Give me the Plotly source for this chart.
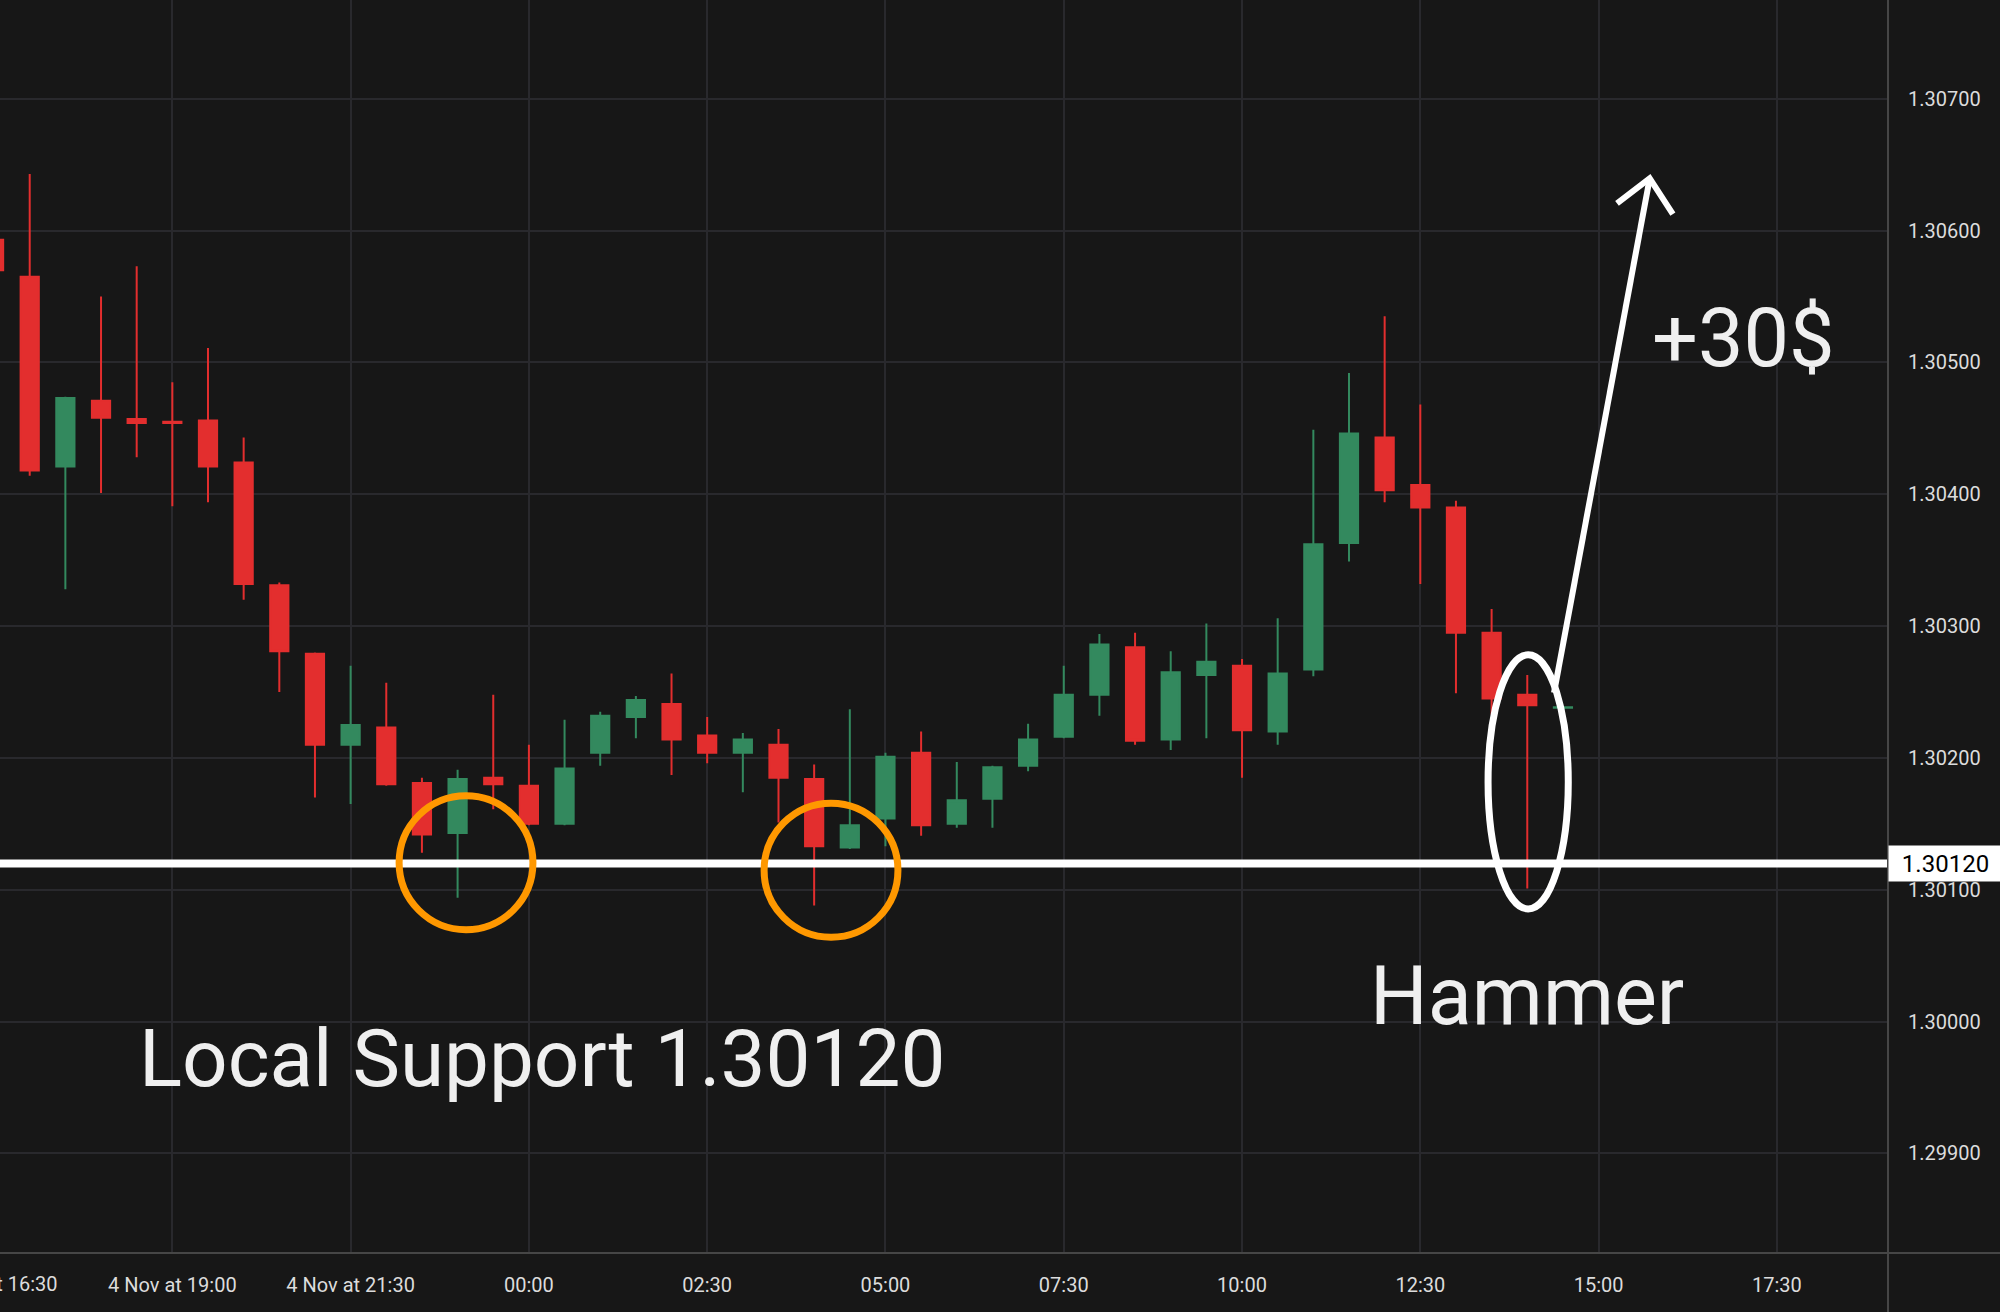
import pandas as pd
import plotly.graph_objects as go

# GBP/USD style 30 min candles, 4 Nov 16:30 -> 5 Nov 14:30
times = pd.date_range("2024-11-04 16:30", periods=45, freq="30min")

opens = [1.30593, 1.30565, 1.30421, 1.30471, 1.30457, 1.30455, 1.30456, 1.30424, 1.30331,
         1.30279, 1.30210, 1.30223, 1.30181, 1.30143, 1.30185, 1.30179, 1.30150, 1.30204,
         1.30231, 1.30241, 1.30217, 1.30204, 1.30210, 1.30184, 1.30132, 1.30154, 1.30204,
         1.30150, 1.30169, 1.30194, 1.30216, 1.30248, 1.30284, 1.30214, 1.30263, 1.30270,
         1.30220, 1.30267, 1.30363, 1.30443, 1.30407, 1.30390, 1.30295, 1.30248, 1.30238]
highs = [1.30610, 1.30643, 1.30474, 1.30550, 1.30573, 1.30485, 1.30511, 1.30443, 1.30333,
         1.30280, 1.30270, 1.30257, 1.30185, 1.30191, 1.30248, 1.30210, 1.30229, 1.30235,
         1.30247, 1.30264, 1.30231, 1.30219, 1.30222, 1.30195, 1.30237, 1.30204, 1.30220,
         1.30197, 1.30194, 1.30226, 1.30270, 1.30294, 1.30295, 1.30281, 1.30302, 1.30275,
         1.30306, 1.30449, 1.30492, 1.30535, 1.30468, 1.30395, 1.30313, 1.30263, 1.302385]
lows = [1.30560, 1.30414, 1.30328, 1.30401, 1.30428, 1.30391, 1.30394, 1.30320, 1.30250,
        1.30170, 1.30165, 1.30179, 1.30128, 1.30094, 1.30161, 1.30149, 1.30149, 1.30194,
        1.30215, 1.30187, 1.30196, 1.30174, 1.30151, 1.30088, 1.30131, 1.30133, 1.30141,
        1.30147, 1.30147, 1.30190, 1.30215, 1.30232, 1.30210, 1.30206, 1.30215, 1.30185,
        1.30210, 1.30262, 1.30349, 1.30394, 1.30332, 1.30249, 1.30233, 1.30101, 1.30238]
closes = [1.30570, 1.30418, 1.30473, 1.30458, 1.30454, 1.30454, 1.30421, 1.30332, 1.30281,
          1.30210, 1.30225, 1.30180, 1.30142, 1.30184, 1.30180, 1.30150, 1.30192, 1.30232,
          1.30244, 1.30214, 1.30204, 1.30214, 1.30185, 1.30133, 1.30149, 1.30201, 1.30149,
          1.30168, 1.30193, 1.30214, 1.30248, 1.30286, 1.30213, 1.30265, 1.30273, 1.30221,
          1.30264, 1.30362, 1.30446, 1.30403, 1.30390, 1.30295, 1.30245, 1.30240, 1.302385]

y_ticks = [1.299, 1.300, 1.301, 1.302, 1.303, 1.304, 1.305, 1.306, 1.307]
x_tick_times = ["2024-11-04 19:00", "2024-11-04 21:30", "2024-11-05 00:00", "2024-11-05 02:30",
                "2024-11-05 05:00", "2024-11-05 07:30", "2024-11-05 10:00", "2024-11-05 12:30",
                "2024-11-05 15:00", "2024-11-05 17:30"]
x_tick_labels = ["4 Nov at 19:00", "4 Nov at 21:30", "00:00", "02:30", "05:00", "07:30",
                 "10:00", "12:30", "15:00", "17:30"]
first_label = "4 Nov at 16:30"

support_level = 1.30120
support_label = "1.30120"

BG = "#171717"
GRID = "#29292d"
AXIS = "#464646"
UP = "#33895e"
DOWN = "#e32e2e"
TXT = "#efefef"
TICK = "#dcdcdc"
ORANGE = "#ff9800"

fig = go.Figure()

fig.add_trace(
    go.Candlestick(
        x=times, open=opens, high=highs, low=lows, close=closes,
        increasing=dict(line=dict(color=UP, width=2), fillcolor=UP),
        decreasing=dict(line=dict(color=DOWN, width=2), fillcolor=DOWN),
        hoverinfo="skip", showlegend=False,
    )
)

# arrow (shaft + open chevron head)
arrow_x = ["2024-11-05 14:22:30", "2024-11-05 15:43", None,
           "2024-11-05 15:15:30", "2024-11-05 15:43", "2024-11-05 16:02:30"]
arrow_y = [1.302495, 1.306396, None, 1.306206, 1.306396, 1.306125]
fig.add_trace(
    go.Scatter(x=arrow_x, y=arrow_y, mode="lines", line=dict(color="white", width=6),
               hoverinfo="skip", showlegend=False)
)

shapes = [
    # support line
    dict(type="line", xref="paper", x0=0, x1=1, yref="y", y0=support_level, y1=support_level,
         line=dict(color="white", width=8)),
    # orange circles on the two lows
    dict(type="circle", xref="x", yref="y", x0="2024-11-04 22:10:48", x1="2024-11-05 00:03:24",
         y0=1.300697, y1=1.301713, line=dict(color=ORANGE, width=7)),
    dict(type="circle", xref="x", yref="y", x0="2024-11-05 03:17:54", x1="2024-11-05 05:10:30",
         y0=1.300640, y1=1.301657, line=dict(color=ORANGE, width=7)),
    # hammer ellipse
    dict(type="circle", xref="x", yref="y", x0="2024-11-05 13:27", x1="2024-11-05 14:34:30",
         y0=1.300855, y1=1.302782, line=dict(color="white", width=7)),
    # axis frame lines
    dict(type="line", xref="paper", x0=0, x1=1.06, yref="paper", y0=0, y1=0,
         line=dict(color=AXIS, width=2)),
    dict(type="line", xref="paper", x0=1, x1=1, yref="paper", y0=-0.05, y1=1,
         line=dict(color=AXIS, width=2)),
]

annotations = [
    dict(x="2024-11-05 00:11", y=1.29972, xref="x", yref="y", text="Local Support 1.30120",
         showarrow=False, font=dict(family="Roboto", size=80, color=TXT)),
    dict(x="2024-11-05 17:02", y=1.30518, xref="x", yref="y", text="+30$",
         showarrow=False, font=dict(family="Roboto", size=81, color=TXT)),
    dict(x="2024-11-05 14:00", y=1.30019, xref="x", yref="y", text="Hammer",
         showarrow=False, font=dict(family="Roboto", size=81, color=TXT)),
    dict(x=1, xref="paper", xanchor="left", y=support_level, yref="y", yanchor="middle",
         text=support_label, showarrow=False, bgcolor="white", width=105, height=27,
         borderpad=4, font=dict(family="Roboto", size=24, color="black")),
    dict(x=-0.00344, xref="paper", xanchor="center", y=-0.025, yref="paper", yanchor="middle",
         text=first_label, showarrow=False, font=dict(family="Roboto", size=20, color=TICK)),
]

fig.update_layout(
    width=2000,
    height=1312,
    margin=dict(l=0, r=112, t=0, b=59, pad=0),
    paper_bgcolor=BG,
    plot_bgcolor=BG,
    boxgap=0.27,
    shapes=shapes,
    annotations=annotations,
    xaxis=dict(
        type="date",
        range=["2024-11-04 16:35", "2024-11-05 19:03:30"],
        rangeslider=dict(visible=False),
        tickvals=x_tick_times,
        ticktext=x_tick_labels,
        showgrid=True, gridcolor=GRID, gridwidth=2,
        showline=False, zeroline=False, ticks="",
        tickfont=dict(family="Roboto", size=20, color=TICK),
        ticklabelstandoff=18,
    ),
    yaxis=dict(
        side="right",
        range=[1.298245, 1.307749],
        tickvals=y_ticks,
        tickformat=".5f",
        showgrid=True, gridcolor=GRID, gridwidth=2,
        showline=False, zeroline=False, ticks="",
        tickfont=dict(family="Roboto", size=20, color=TICK),
        ticklabelstandoff=19,
    ),
)

# page has a default body margin; remove it so the chart sits flush like the screenshot
fig.write_html("out.html", config={"displayModeBar": False},
               post_script="document.body.style.margin='0';")
